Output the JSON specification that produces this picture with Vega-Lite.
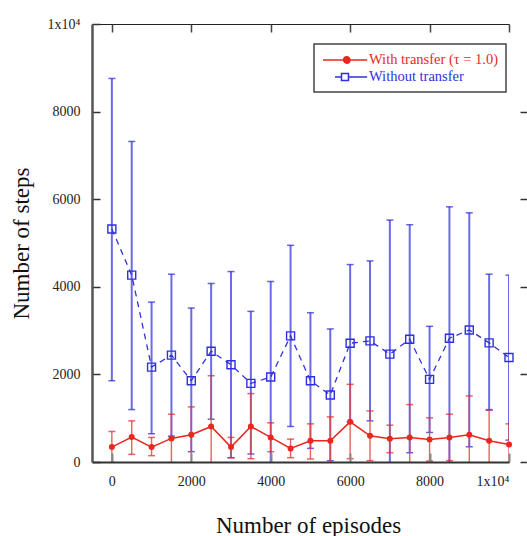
{
  "$schema": "https://vega.github.io/schema/vega-lite/v6.json",
  "width": 417,
  "height": 438,
  "autosize": {"type": "none"},
  "padding": {"left": 92, "top": 24, "right": 18, "bottom": 74},
  "background": "white",
  "config": {"view": {"stroke": null}, "font": "Liberation Serif", "legend": {"strokeWidth": 1.5}},
  "data": {"values": [
    {"series": "With transfer (τ = 1.0)", "ep": 0, "mean": 341, "lo": -15, "hi": 697},
    {"series": "With transfer (τ = 1.0)", "ep": 500, "mean": 568, "lo": 174, "hi": 939},
    {"series": "With transfer (τ = 1.0)", "ep": 1000, "mean": 341, "lo": 144, "hi": 561},
    {"series": "With transfer (τ = 1.0)", "ep": 1500, "mean": 538, "lo": -15, "hi": 1091},
    {"series": "With transfer (τ = 1.0)", "ep": 2000, "mean": 621, "lo": -16, "hi": 1258},
    {"series": "With transfer (τ = 1.0)", "ep": 2500, "mean": 811, "lo": -348, "hi": 1970},
    {"series": "With transfer (τ = 1.0)", "ep": 3000, "mean": 341, "lo": 98, "hi": 561},
    {"series": "With transfer (τ = 1.0)", "ep": 3500, "mean": 811, "lo": 76, "hi": 1561},
    {"series": "With transfer (τ = 1.0)", "ep": 4000, "mean": 561, "lo": 235, "hi": 894},
    {"series": "With transfer (τ = 1.0)", "ep": 4500, "mean": 311, "lo": 98, "hi": 523},
    {"series": "With transfer (τ = 1.0)", "ep": 5000, "mean": 485, "lo": 68, "hi": 871},
    {"series": "With transfer (τ = 1.0)", "ep": 5500, "mean": 485, "lo": -60, "hi": 1030},
    {"series": "With transfer (τ = 1.0)", "ep": 6000, "mean": 917, "lo": 76, "hi": 1773},
    {"series": "With transfer (τ = 1.0)", "ep": 6500, "mean": 599, "lo": 31, "hi": 1167},
    {"series": "With transfer (τ = 1.0)", "ep": 7000, "mean": 530, "lo": 212, "hi": 841},
    {"series": "With transfer (τ = 1.0)", "ep": 7500, "mean": 561, "lo": -189, "hi": 1311},
    {"series": "With transfer (τ = 1.0)", "ep": 8000, "mean": 515, "lo": 22, "hi": 1008},
    {"series": "With transfer (τ = 1.0)", "ep": 8500, "mean": 561, "lo": 31, "hi": 1091},
    {"series": "With transfer (τ = 1.0)", "ep": 9000, "mean": 621, "lo": -266, "hi": 1508},
    {"series": "With transfer (τ = 1.0)", "ep": 9500, "mean": 485, "lo": -227, "hi": 1197},
    {"series": "With transfer (τ = 1.0)", "ep": 10000, "mean": 402, "lo": -67, "hi": 871},
    {"series": "Without transfer", "ep": 0, "mean": 5320, "lo": 1856, "hi": 8757},
    {"series": "Without transfer", "ep": 500, "mean": 4266, "lo": 1197, "hi": 7318},
    {"series": "Without transfer", "ep": 1000, "mean": 2167, "lo": 644, "hi": 3651},
    {"series": "Without transfer", "ep": 1500, "mean": 2439, "lo": 590, "hi": 4288},
    {"series": "Without transfer", "ep": 2000, "mean": 1856, "lo": 235, "hi": 3515},
    {"series": "Without transfer", "ep": 2500, "mean": 2530, "lo": 977, "hi": 4076},
    {"series": "Without transfer", "ep": 3000, "mean": 2220, "lo": 98, "hi": 4348},
    {"series": "Without transfer", "ep": 3500, "mean": 1795, "lo": 182, "hi": 3439},
    {"series": "Without transfer", "ep": 4000, "mean": 1939, "lo": -243, "hi": 4121},
    {"series": "Without transfer", "ep": 4500, "mean": 2879, "lo": 811, "hi": 4947},
    {"series": "Without transfer", "ep": 5000, "mean": 1856, "lo": 311, "hi": 3409},
    {"series": "Without transfer", "ep": 5500, "mean": 1530, "lo": 30, "hi": 3038},
    {"series": "Without transfer", "ep": 6000, "mean": 2712, "lo": 916, "hi": 4508},
    {"series": "Without transfer", "ep": 6500, "mean": 2765, "lo": 939, "hi": 4591},
    {"series": "Without transfer", "ep": 7000, "mean": 2462, "lo": -599, "hi": 5523},
    {"series": "Without transfer", "ep": 7500, "mean": 2803, "lo": 212, "hi": 5417},
    {"series": "Without transfer", "ep": 8000, "mean": 1886, "lo": 674, "hi": 3098},
    {"series": "Without transfer", "ep": 8500, "mean": 2826, "lo": -174, "hi": 5826},
    {"series": "Without transfer", "ep": 9000, "mean": 3015, "lo": 348, "hi": 5689},
    {"series": "Without transfer", "ep": 9500, "mean": 2720, "lo": 1182, "hi": 4288},
    {"series": "Without transfer", "ep": 10000, "mean": 2386, "lo": 500, "hi": 4266}
  ]},
  "resolve": {"axis": {"x": "independent", "y": "independent"}},
  "layer": [
    {
      "transform": [{"filter": "datum.series == 'Without transfer'"}],
      "mark": {"type": "rule", "color": "#4646e0", "strokeWidth": 2, "opacity": 0.8, "clip": true},
      "encoding": {
        "x": {"field": "ep", "type": "quantitative",
          "scale": {"domain": [-500, 10000], "nice": false, "zero": false},
          "axis": {"orient": "bottom", "values": [0, 2000, 4000, 6000, 8000, 10000], "format": "d",
            "labelExpr": "datum.value == 10000 ? '1x10⁴' : datum.label",
            "title": "Number of episodes", "titleFontSize": 23, "titleFontWeight": "normal", "titleColor": "#111",
            "titleFont": "Liberation Serif", "titlePadding": 26, "titleX": 216,
            "tickSize": -9, "tickColor": "#888", "tickWidth": 2,
            "domainColor": "#333", "domainWidth": 2,
            "labelFont": "Liberation Serif", "labelFontSize": 14, "labelColor": "#222", "labelPadding": 21,
            "grid": false, "zindex": 1}},
        "y": {"field": "lo", "type": "quantitative",
          "scale": {"domain": [0, 10000], "nice": false},
          "axis": {"orient": "left", "values": [0, 2000, 4000, 6000, 8000, 10000], "format": "d",
            "labelExpr": "datum.value == 10000 ? '1x10⁴' : datum.label",
            "title": "Number of steps", "titleFontSize": 23, "titleFontWeight": "normal", "titleColor": "#111",
            "titleFont": "Liberation Serif", "titlePadding": 14,
            "tickSize": -8, "tickColor": "#333", "tickWidth": 1.5,
            "domainColor": "#555", "domainWidth": 2.5,
            "labelFont": "Liberation Serif", "labelFontSize": 14, "labelColor": "#222", "labelPadding": 20,
            "grid": false, "zindex": 1}},
        "y2": {"field": "hi"}
      }
    },
    {
      "transform": [{"filter": "datum.series == 'Without transfer'"}],
      "mark": {"type": "tick", "orient": "horizontal", "color": "#2424d4", "size": 7, "thickness": 1.5, "clip": true},
      "encoding": {
        "x": {"field": "ep", "type": "quantitative",
          "axis": {"orient": "top", "values": [0, 2000, 4000, 6000, 8000, 10000], "labels": false, "title": null,
            "tickSize": -8, "tickColor": "#444", "tickWidth": 1.5, "domainColor": "#222", "domainWidth": 1, "grid": false}},
        "y": {"field": "hi", "type": "quantitative",
          "axis": {"orient": "right", "offset": 18, "values": [0, 2000, 4000, 6000, 8000], "labels": false, "title": null,
            "tickSize": -7, "tickColor": "#333", "tickWidth": 1.5, "domain": false, "grid": false}}
      }
    },
    {
      "transform": [{"filter": "datum.series == 'Without transfer'"}],
      "mark": {"type": "tick", "orient": "horizontal", "color": "#2424d4", "size": 7, "thickness": 1.5, "clip": true},
      "encoding": {
        "x": {"field": "ep", "type": "quantitative", "axis": null},
        "y": {"field": "lo", "type": "quantitative", "axis": null}
      }
    },
    {
      "transform": [{"filter": "datum.series == 'Without transfer'"}],
      "mark": {"type": "line", "color": "#3030e0", "strokeWidth": 1.3, "strokeDash": [6, 5]},
      "encoding": {
        "x": {"field": "ep", "type": "quantitative", "axis": null},
        "y": {"field": "mean", "type": "quantitative", "axis": null}
      }
    },
    {
      "transform": [{"filter": "datum.series != 'Without transfer'"}],
      "mark": {"type": "rule", "color": "#e84444", "strokeWidth": 1.4, "opacity": 0.85, "clip": true},
      "encoding": {
        "x": {"field": "ep", "type": "quantitative", "axis": null},
        "y": {"field": "lo", "type": "quantitative", "axis": null},
        "y2": {"field": "hi"}
      }
    },
    {
      "transform": [{"filter": "datum.series != 'Without transfer'"}],
      "mark": {"type": "tick", "orient": "horizontal", "color": "#e02424", "size": 7, "thickness": 1.5, "clip": true},
      "encoding": {
        "x": {"field": "ep", "type": "quantitative", "axis": null},
        "y": {"field": "hi", "type": "quantitative", "axis": null}
      }
    },
    {
      "transform": [{"filter": "datum.series != 'Without transfer'"}],
      "mark": {"type": "tick", "orient": "horizontal", "color": "#e02424", "size": 7, "thickness": 1.5, "clip": true},
      "encoding": {
        "x": {"field": "ep", "type": "quantitative", "axis": null},
        "y": {"field": "lo", "type": "quantitative", "axis": null}
      }
    },
    {
      "transform": [{"filter": "datum.series != 'Without transfer'"}],
      "mark": {"type": "line", "color": "#e8281e", "strokeWidth": 1.5},
      "encoding": {
        "x": {"field": "ep", "type": "quantitative", "axis": null},
        "y": {"field": "mean", "type": "quantitative", "axis": null}
      }
    },
    {
      "transform": [{"filter": "datum.series != 'Without transfer'"}],
      "mark": {"type": "point", "shape": "circle", "filled": true, "size": 36, "opacity": 1, "color": "#e8281e"},
      "encoding": {
        "x": {"field": "ep", "type": "quantitative", "axis": null},
        "y": {"field": "mean", "type": "quantitative", "axis": null}
      }
    },
    {
      "transform": [{"filter": "datum.series == 'Without transfer'"}],
      "mark": {"type": "point", "shape": "square", "filled": false, "size": 64, "strokeWidth": 1.4, "opacity": 1},
      "encoding": {
        "x": {"field": "ep", "type": "quantitative", "axis": null},
        "y": {"field": "mean", "type": "quantitative", "axis": null},
        "color": {"field": "series", "type": "nominal",
          "scale": {"domain": ["With transfer (τ = 1.0)", "Without transfer"], "range": ["#e8281e", "#2f2fe0"]},
          "legend": {"title": null, "orient": "none", "legendX": 222, "legendY": 20,
            "padding": 8, "rowPadding": 2, "symbolSize": 196, "labelOffset": 31,
            "labelFont": "Liberation Serif", "labelFontSize": 14.5,
            "strokeColor": "#444", "fillColor": "white",
            "symbolStrokeWidth": 1.5, "symbolOpacity": 1,
            "symbolType": {"expr": "datum.value == 'Without transfer' ? 'M0.71,0H1.64M1.64,-0.5H2.64V0.5H1.64ZM2.64,0H5.3' : 'M-1,0H5.3M2.85,0A0.45,0.45 0 1,0 1.95,0A0.45,0.45 0 1,0 2.85,0M2.65,0A0.25,0.25 0 1,0 2.15,0A0.25,0.25 0 1,0 2.65,0M2.45,0A0.06,0.06 0 1,0 2.33,0A0.06,0.06 0 1,0 2.45,0'"},
            "labelColor": {"expr": "datum.value == 'Without transfer' ? '#2f2fe0' : '#e8281e'"}
          }}
      }
    }
  ]
}
